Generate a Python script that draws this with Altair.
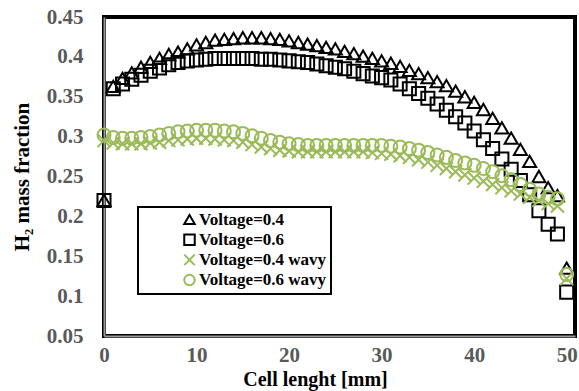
import altair as alt
import pandas as pd

# x positions (mm)
cell_x = list(range(0, 51))

v04 = [0.220, 0.363, 0.373, 0.380, 0.387, 0.393, 0.398, 0.403, 0.406, 0.410,
       0.415, 0.418, 0.421, 0.422, 0.423, 0.424, 0.424, 0.424, 0.423, 0.422,
       0.420, 0.418, 0.416, 0.414, 0.412, 0.410, 0.407, 0.404, 0.401, 0.398,
       0.395, 0.392, 0.388, 0.383, 0.379, 0.374, 0.369, 0.364, 0.357, 0.350,
       0.343, 0.334, 0.323, 0.311, 0.298, 0.284, 0.269, 0.250, 0.236, 0.226,
       0.135]

v06 = [0.220, 0.360, 0.366, 0.372, 0.377, 0.382, 0.386, 0.390, 0.393, 0.395,
       0.396, 0.397, 0.398, 0.398, 0.398, 0.398, 0.398, 0.397, 0.397, 0.396,
       0.395, 0.394, 0.393, 0.391, 0.389, 0.387, 0.385, 0.382, 0.379, 0.376,
       0.374, 0.371, 0.366, 0.360, 0.354, 0.348, 0.341, 0.333, 0.325, 0.317,
       0.307, 0.296, 0.285, 0.272, 0.259, 0.245, 0.227, 0.207, 0.190, 0.178,
       0.105]

v04_wavy = [0.295, 0.292, 0.291, 0.291, 0.291, 0.292, 0.293, 0.295, 0.296, 0.297,
            0.298, 0.298, 0.297, 0.296, 0.295, 0.293, 0.290, 0.287, 0.285, 0.283,
            0.282, 0.281, 0.281, 0.281, 0.281, 0.281, 0.281, 0.281, 0.281, 0.280,
            0.279, 0.278, 0.276, 0.274, 0.271, 0.268, 0.264, 0.260, 0.256, 0.252,
            0.248, 0.244, 0.240, 0.236, 0.232, 0.228, 0.224, 0.220, 0.216, 0.213,
            0.122]

v06_wavy = [0.302, 0.299, 0.298, 0.298, 0.299, 0.300, 0.302, 0.304, 0.306, 0.307,
            0.308, 0.308, 0.308, 0.307, 0.306, 0.304, 0.301, 0.298, 0.295, 0.293,
            0.291, 0.290, 0.289, 0.289, 0.289, 0.289, 0.289, 0.289, 0.289, 0.289,
            0.289, 0.288, 0.287, 0.285, 0.283, 0.280, 0.277, 0.274, 0.270, 0.267,
            0.264, 0.260, 0.256, 0.251, 0.246, 0.240, 0.234, 0.228, 0.224, 0.222,
            0.127]

series_names = ["Voltage=0.4", "Voltage=0.6", "Voltage=0.4 wavy", "Voltage=0.6 wavy"]
series_values = [v04, v06, v04_wavy, v06_wavy]
series_colors = ["#000000", "#000000", "#9BBB59", "#9BBB59"]
series_shapes = ["triangle-up", "square", "M-1,-1L1,1M-1,1L1,-1", "circle"]

x_ticks = [0, 10, 20, 30, 40, 50]
y_ticks = [0.05, 0.1, 0.15, 0.2, 0.25, 0.3, 0.35, 0.4, 0.45]

rows = []
for k, (name, vals) in enumerate(zip(series_names, series_values)):
    for i, (xv, yv) in enumerate(zip(cell_x, vals)):
        rows.append({"x": xv, "y": yv, "series": name, "ord": k * 100 + i})
df = pd.DataFrame(rows)

FONT = "Liberation Serif"
pad = "\u00a0" * 12

chart = alt.Chart(df).mark_point(filled=False, size=170, strokeWidth=2, opacity=1).encode(
    x=alt.X("x:Q",
            scale=alt.Scale(domain=[0, 50.9], nice=False, zero=False),
            axis=alt.Axis(values=x_ticks, title="Cell lenght [mm]", grid=False, ticks=False,
                          labelFlush=False, labelPadding=8, labelFontSize=21,
                          titleX=211, titleY=49, titleBaseline="alphabetic",
                          titleAlign="center", titleFontSize=20)),
    y=alt.Y("y:Q",
            scale=alt.Scale(domain=[0.05, 0.45], nice=False, zero=False),
            axis=alt.Axis(values=y_ticks, format=".2~f", title="H₂ mass fraction", grid=False,
                          ticks=False, labelPadding=21, labelFontSize=21,
                          titleX=-82, titleY=159.5, titleAngle=270, titleAlign="center",
                          titleBaseline="middle", titleFontSize=21)),
    color=alt.Color("series:N",
                    scale=alt.Scale(domain=series_names, range=series_colors),
                    legend=alt.Legend(title=None, orient="none", legendX=34, legendY=190,
                                      symbolOffset=39, symbolSize=110, symbolStrokeWidth=2,
                                      labelExpr="datum.label + '" + pad + "'")),
    shape=alt.Shape("series:N",
                    scale=alt.Scale(domain=series_names, range=series_shapes)),
    order=alt.Order("ord:Q"),
).properties(
    width=471, height=319,
    padding={"left": 104, "top": 17, "right": 4, "bottom": 55},
    autosize="none",
).configure_view(
    stroke="black", strokeWidth=4
).configure_axis(
    labelFont=FONT, labelFontWeight="bold", labelColor="#595959",
    titleFont=FONT, titleFontWeight="bold", titleColor="black",
    domainColor="#9a9a9a", domainWidth=2,
).configure_legend(
    labelFont=FONT, labelFontWeight="bold", labelFontSize=17, labelColor="black",
    strokeColor="black", strokeWidth=2, padding=4, rowPadding=1.2, fillColor="white",
    labelOffset=1,
)

chart.save("out.html", embed_options={"renderer": "svg", "actions": False})
